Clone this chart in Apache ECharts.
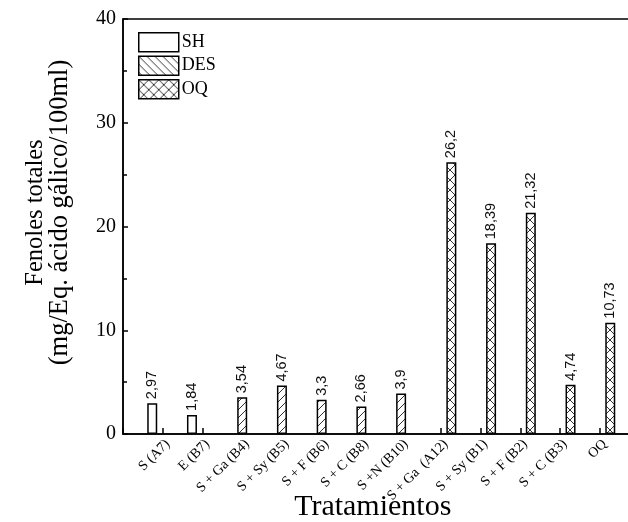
<!DOCTYPE html>
<html>
<head>
<meta charset="utf-8">
<script src="https://cdn.jsdelivr.net/npm/echarts@6/dist/echarts.min.js"></script>
<style>
  html, body { margin: 0; padding: 0; background: #fff; }
  #chart { width: 628px; height: 522px; }
</style>
</head>
<body>
<div id="chart"></div>
<script>
const categories = ['S (A7)', 'E (B7)', 'S + Ga (B4)', 'S + Sy (B5)', 'S + F (B6)', 'S + C (B8)',
  'S +N (B10)', 'S + Ga  (A12)', 'S + Sy (B1)', 'S + F (B2)', 'S + C (B3)', 'OQ'];
const shValues = [2.97, 1.84, null, null, null, null, null, null, null, null, null, null];
const desValues = [null, null, 3.54, 4.67, 3.3, 2.66, 3.9, null, null, null, null, null];
const oqValues = [null, null, null, null, null, null, null, 26.2, 18.39, 21.32, 4.74, 10.73];

// hatch tiles drawn on small canvases
function makePattern(kind, size) {
  const c = document.createElement('canvas');
  c.width = size;
  c.height = size;
  const ctx = c.getContext('2d');
  ctx.fillStyle = '#fff';
  ctx.fillRect(0, 0, size, size);
  ctx.strokeStyle = '#333';
  ctx.lineWidth = 1;
  ctx.beginPath();
  if (kind === 'slash' || kind === 'cross') {
    ctx.moveTo(-1, size + 1); ctx.lineTo(size + 1, -1);
    ctx.moveTo(-2, 2); ctx.lineTo(2, -2);
    ctx.moveTo(size - 2, size + 2); ctx.lineTo(size + 2, size - 2);
  }
  if (kind === 'back' || kind === 'cross') {
    ctx.moveTo(-1, -1); ctx.lineTo(size + 1, size + 1);
    ctx.moveTo(size - 2, -2); ctx.lineTo(size + 2, 2);
    ctx.moveTo(-2, size - 2); ctx.lineTo(2, size + 2);
  }
  ctx.stroke();
  return { image: c, repeat: 'repeat' };
}

const slashFill = makePattern('slash', 8);
const backFill = makePattern('back', 8);
const crossFill = makePattern('cross', 10);

const serif = 'Liberation Serif';
const pad = arr => [null].concat(arr, [null]);
const fmt = p => String(p.value).replace('.', ',');

const barLabel = {
  show: true,
  position: 'top',
  rotate: 90,
  align: 'left',
  verticalAlign: 'middle',
  distance: 4,
  fontFamily: 'Liberation Sans',
  fontSize: 14.5,
  color: '#111',
  formatter: fmt
};

const chart = echarts.init(document.getElementById('chart'), null, { renderer: 'canvas' });

chart.setOption({
  animation: false,
  backgroundColor: '#fff',
  grid: {
    show: true,
    left: 123,
    top: 19,
    width: 516.5,
    bottom: 88,
    containLabel: false,
    outerBoundsMode: 'none',
    borderColor: '#000',
    borderWidth: 1.5,
    backgroundColor: 'transparent'
  },
  legend: {
    orient: 'vertical',
    left: 138,
    top: 32,
    padding: 0,
    itemWidth: 40,
    itemHeight: 19,
    itemGap: 3,
    icon: 'rect',
    itemStyle: { borderColor: '#000', borderWidth: 1.5 },
    textStyle: { fontFamily: serif, fontSize: 18, color: '#000', padding: [0, 0, 0, -2] },
    data: [
      { name: 'SH', itemStyle: { color: '#fff' } },
      { name: 'DES', itemStyle: { color: backFill } },
      { name: 'OQ', itemStyle: { color: crossFill } }
    ]
  },
  xAxis: {
    type: 'category',
    boundaryGap: false,
    data: [''].concat(categories, ['']),
    name: 'Tratamientos',
    nameLocation: 'middle',
    nameGap: 58,
    nameMoveOverlap: false,
    nameTextStyle: { fontFamily: serif, fontSize: 30, color: '#000', padding: [0, 17, 0, 0] },
    axisLine: { lineStyle: { color: '#000', width: 1.5 } },
    axisTick: { show: true, inside: true, length: 6, interval: 0, lineStyle: { color: '#000', width: 1.5 } },
    axisLabel: {
      interval: 0,
      rotate: 45,
      margin: 3,
      align: 'right',
      verticalAlign: 'top',
      fontFamily: serif,
      fontSize: 14,
      color: '#000'
    },
    splitLine: { show: false }
  },
  yAxis: {
    type: 'value',
    min: 0,
    max: 40,
    interval: 10,
    name: '{a|Fenoles totales}\n{b|(mg/Eq. ácido gálico/100ml)}',
    nameLocation: 'middle',
    nameGap: 51,
    nameMoveOverlap: false,
    nameTextStyle: {
      fontFamily: serif,
      fontSize: 25,
      lineHeight: 24,
      color: '#000',
      padding: [0, 0, 0, 28],
      rich: {
        a: { fontFamily: serif, fontSize: 24.5, lineHeight: 24, color: '#000' },
        b: { fontFamily: serif, fontSize: 26.5, lineHeight: 24, color: '#000' }
      }
    },
    axisLine: { show: true, lineStyle: { color: '#000', width: 1.5 } },
    axisTick: { show: true, inside: true, length: 5, lineStyle: { color: '#000', width: 1.5 } },
    minorTick: { show: true, splitNumber: 2, length: 4, lineStyle: { color: '#000', width: 1.5 } },
    axisLabel: { margin: 7, fontFamily: serif, fontSize: 20, color: '#000' },
    splitLine: { show: false }
  },
  series: [
    {
      name: 'SH',
      type: 'bar',
      data: pad(shValues),
      barWidth: 10,
      barGap: '5%',
      itemStyle: { color: '#fff', borderColor: '#000', borderWidth: 1.5 },
      label: barLabel
    },
    {
      name: 'DES',
      type: 'bar',
      data: pad(desValues),
      barWidth: 10,
      barGap: '5%',
      itemStyle: { color: slashFill, borderColor: '#000', borderWidth: 1.5 },
      label: barLabel
    },
    {
      name: 'OQ',
      type: 'bar',
      data: pad(oqValues),
      barWidth: 10,
      barGap: '5%',
      itemStyle: { color: crossFill, borderColor: '#000', borderWidth: 1.5 },
      label: barLabel
    }
  ]
});
</script>
</body>
</html>
